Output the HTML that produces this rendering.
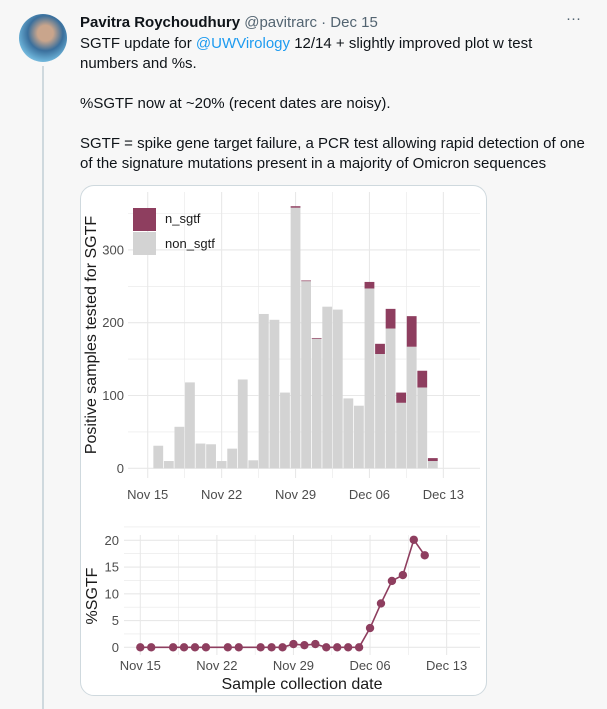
<!DOCTYPE html>
<html><head><meta charset="utf-8"><style>
body{margin:0;width:607px;height:709px;background:#f7f7f7;font-family:"Liberation Sans",sans-serif;overflow:hidden;position:relative}
.t{position:absolute;left:80px;font-size:15px;color:#0f1419;white-space:nowrap}
</style></head><body>
<div style="position:absolute;left:19px;top:14px;width:48px;height:48px;border-radius:50%;background:radial-gradient(circle at 55% 40%,#c9a58c 0 20%,#3a6f9c 45%,#6ab0d6 70%,#d6eef9)"></div>
<div style="position:absolute;left:42px;top:66px;width:2px;height:643px;background:#cfd9de"></div>
<div class="t" style="top:14px"><b>Pavitra Roychoudhury</b> <span style="color:#536471">@pavitrarc · Dec 15</span></div>
<div style="position:absolute;left:566px;top:10px;color:#536471;font-size:15px">···</div>
<div class="t" style="top:34px;line-height:20px">SGTF update for <span style="color:#1d9bf0">@UWVirology</span> 12/14 + slightly improved plot w test<br>numbers and %s.<br><br>%SGTF now at ~20% (recent dates are noisy).<br><br>SGTF = spike gene target failure, a PCR test allowing rapid detection of one<br>of the signature mutations present in a majority of Omicron sequences</div>
<div style="position:absolute;left:80px;top:185px;width:405px;height:509px;background:#fff;border:1px solid #cfd9de;border-radius:14px"></div>
<svg id="c" width="607" height="709" style="position:absolute;left:0;top:0" font-family="Liberation Sans, sans-serif"></svg>
<script>
const barDays=[1,2,3,4,5,6,7,8,9,10,11,12,13,14,15,16,17,18,19,20,21,22,23,24,25,26,27];
const nonSgtf=[31,10,57,118,34,33,10,27,122,11,212,204,104,358,257,178,222,218,96,86,247,157,192,90,167,111,10];
const nSgtf=[0,0,0,0,0,0,0,0,0,0,0,0,0,2,1,1,0,0,0,0,9,14,27,14,42,23,4];
const pctDays=[0,1,3,4,5,6,8,9,11,12,13,14,15,16,17,18,19,20,21,22,23,24,25,26];
const pctVals=[0,0,0,0,0,0,0,0,0,0,0,0.6,0.4,0.6,0,0,0,0,3.6,8.2,12.4,13.5,20.1,17.2];
const xTicks=["Nov 15","Nov 22","Nov 29","Dec 06","Dec 13"];
const yTicksTop=[0,100,200,300];
const yTicksBot=[0,5,10,15,20];
const S=document.getElementById('c');const NS='http://www.w3.org/2000/svg';
function el(t,a,txt){const e=document.createElementNS(NS,t);for(const k in a)e.setAttribute(k,a[k]);if(txt!==undefined)e.textContent=txt;S.appendChild(e);return e;}
const xT=d=>147.7+d*10.56, yT=v=>468.3-v*0.728;
const xB=d=>140.3+d*10.94, yB=v=>647.3-v*5.35;
for(let i=0;i<=8;i++){const v=i*50;if(yT(v)<195)continue;let g=el('line',{x1:128,x2:480,y1:yT(v),y2:yT(v),stroke:'#e8e8e8','stroke-width':i%2?0.6:1.1});}
for(let i=-1;i<=9;i++){const x=xT(i*3.5);if(x<128||x>480)continue;let g=el('line',{x1:x,x2:x,y1:192,y2:478,stroke:'#e8e8e8','stroke-width':i%2?0.6:1.1});}
barDays.forEach((d,i)=>{const w=9.8;let r=el('rect',{x:xT(d)-w/2,y:yT(nonSgtf[i]),width:w,height:yT(0)-yT(nonSgtf[i]),fill:'#d3d3d3'});

if(nSgtf[i]>0){let s=el('rect',{x:xT(d)-w/2,y:yT(nonSgtf[i]+nSgtf[i]),width:w,height:yT(nonSgtf[i])-yT(nonSgtf[i]+nSgtf[i]),fill:'#8e3e5f'});}});
yTicksTop.forEach(v=>{let t=el('text',{x:124,y:yT(v)+4.5,'text-anchor':'end','font-size':13,fill:'#4d4d4d'},v);});
xTicks.forEach((s,i)=>{let t=el('text',{x:xT(i*7),y:499,'text-anchor':'middle','font-size':13,fill:'#4d4d4d'},s);});
let yt=el('text',{x:0,y:0,transform:'translate(96,335) rotate(-90)','text-anchor':'middle','font-size':16,fill:'#1a1a1a'},'Positive samples tested for SGTF');

let l1=el('rect',{x:133,y:208,width:23,height:23,fill:'#8e3e5f'});
let l2=el('rect',{x:133,y:232,width:23,height:23,fill:'#d3d3d3'});
let l3=el('text',{x:165,y:223,'font-size':13,fill:'#1a1a1a'},'n_sgtf');
let l4=el('text',{x:165,y:248,'font-size':13,fill:'#1a1a1a'},'non_sgtf');
for(let v=0;v<=22.5;v+=2.5){let g=el('line',{x1:124,x2:480,y1:yB(v),y2:yB(v),stroke:'#e8e8e8','stroke-width':(v%5)?0.6:1.1});}
for(let i=-1;i<=9;i++){const x=xB(i*3.5);if(x<124||x>480)continue;let g=el('line',{x1:x,x2:x,y1:535,y2:655,stroke:'#e8e8e8','stroke-width':i%2?0.6:1.1});}
let line=el('polyline',{points:pctDays.map((d,i)=>xB(d)+','+yB(pctVals[i])).join(' '),fill:'none',stroke:'#8e3e5f','stroke-width':1.6});

pctDays.forEach((d,i)=>{let c=el('circle',{cx:xB(d),cy:yB(pctVals[i]),r:4.2,fill:'#8e3e5f'});});
yTicksBot.forEach(v=>{let t=el('text',{x:119,y:yB(v)+4.5,'text-anchor':'end','font-size':13,fill:'#4d4d4d'},v);});
xTicks.forEach((s,i)=>{let t=el('text',{x:xB(i*7),y:670,'text-anchor':'middle','font-size':13,fill:'#4d4d4d'},s);});
let yb=el('text',{x:0,y:0,transform:'translate(97,596) rotate(-90)','text-anchor':'middle','font-size':16,fill:'#1a1a1a'},'%SGTF');

let xt=el('text',{x:302,y:689,'text-anchor':'middle','font-size':16,fill:'#1a1a1a'},'Sample collection date');

</script>
</body></html>
